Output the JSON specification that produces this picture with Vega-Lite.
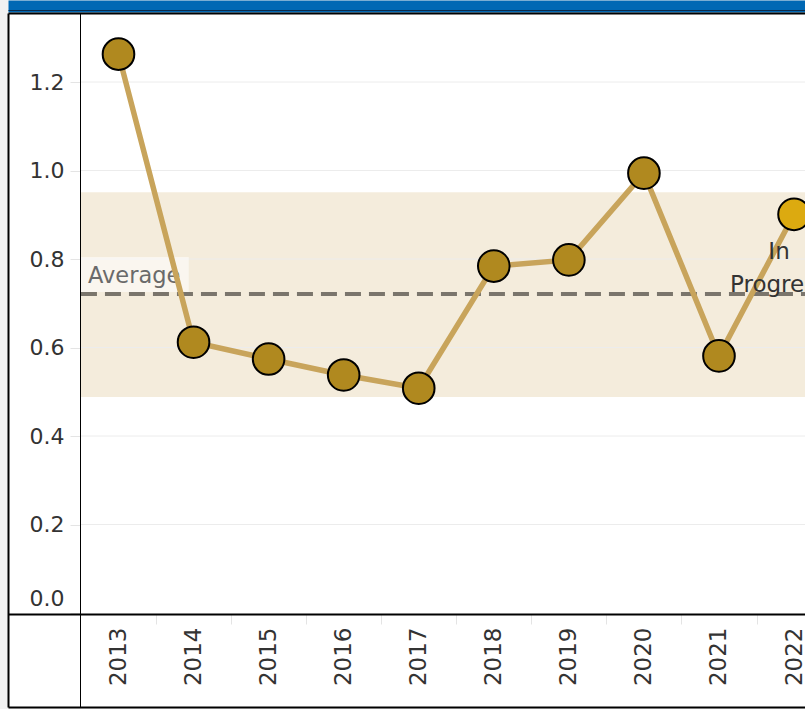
{
  "$schema": "https://vega.github.io/schema/vega-lite/v6.json",
  "autosize": "none",
  "width": 797,
  "height": 694,
  "padding": {"left": 8, "top": 13, "right": 0, "bottom": 2},
  "background": "#f2f2f2",
  "config": {"view": {"fill": "white", "stroke": null}, "font": "DejaVu Sans"},
  "datasets": {
    "series": [
      {"year": 2013, "value": 1.263, "status": "Complete"},
      {"year": 2014, "value": 0.612, "status": "Complete"},
      {"year": 2015, "value": 0.574, "status": "Complete"},
      {"year": 2016, "value": 0.538, "status": "Complete"},
      {"year": 2017, "value": 0.508, "status": "Complete"},
      {"year": 2018, "value": 0.784, "status": "Complete"},
      {"year": 2019, "value": 0.798, "status": "Complete"},
      {"year": 2020, "value": 0.994, "status": "Complete"},
      {"year": 2021, "value": 0.581, "status": "Complete"},
      {"year": 2022, "value": 0.901, "status": "In Progress"}
    ],
    "ref": [{"avg": 0.721, "lo": 0.488, "hi": 0.951}],
    "grid": [{"v": 0.2}, {"v": 0.4}, {"v": 0.6}, {"v": 0.8}, {"v": 1.0}, {"v": 1.2}]
  },
  "resolve": {"scale": {"x": "independent", "y": "independent"}},
  "layer": [
    {
      "data": {"name": "ref"},
      "mark": {"type": "point", "opacity": 0},
      "encoding": {
        "x": {"field": "avg", "type": "quantitative", "scale": {"domain": [0, 1]},
          "axis": {"orient": "top", "offset": 7, "domainColor": "#0068b4", "domainWidth": 12, "labels": false, "ticks": false, "grid": false, "title": null, "zindex": 2}},
        "y": {"field": "avg", "type": "quantitative", "scale": {"domain": [0, 1]},
          "axis": {"orient": "left", "offset": 0, "domainColor": "#000000", "domainWidth": 2, "labels": false, "ticks": false, "grid": false, "title": null, "zindex": 2}}
      }
    },
    {
      "data": {"name": "ref"},
      "mark": {"type": "point", "opacity": 0},
      "encoding": {
        "x": {"field": "avg", "type": "quantitative", "scale": {"domain": [0, 1]},
          "axis": {"orient": "top", "offset": 0, "domainColor": "#000000", "domainWidth": 2, "labels": false, "ticks": false, "grid": false, "title": null, "zindex": 3}},
        "y": {"field": "avg", "type": "quantitative", "scale": {"domain": [0, 1]},
          "axis": {"orient": "left", "offset": -72, "domainColor": "#000000", "domainWidth": 1, "labels": false, "ticks": false, "grid": false, "title": null, "zindex": 2}}
      }
    },
    {
      "data": {"name": "ref"},
      "mark": {"type": "point", "opacity": 0},
      "encoding": {
        "x": {"field": "avg", "type": "quantitative", "scale": {"domain": [0, 1]},
          "axis": {"orient": "bottom", "offset": 0, "domainColor": "#000000", "domainWidth": 2, "labels": false, "ticks": false, "grid": false, "title": null, "zindex": 2}},
        "y": {"field": "avg", "type": "quantitative", "scale": {"domain": [0, 1]}, "axis": null}
      }
    },
    {
      "data": {"name": "ref"},
      "mark": {"type": "point", "opacity": 0},
      "encoding": {
        "x": {"field": "avg", "type": "quantitative", "scale": {"domain": [0, 1]},
          "axis": {"orient": "bottom", "offset": -93, "domainColor": "#000000", "domainWidth": 2, "labels": false, "ticks": false, "grid": false, "title": null, "zindex": 2}},
        "y": {"field": "avg", "type": "quantitative", "scale": {"domain": [0, 1]}, "axis": null}
      }
    },
    {
      "data": {"name": "ref"},
      "mark": {"type": "point", "opacity": 0},
      "encoding": {
        "x": {"field": "avg", "type": "quantitative", "scale": {"domain": [0, 1]},
          "axis": {"orient": "top", "offset": 3, "domainColor": "#0a2a4a", "domainWidth": 1, "labels": false, "ticks": false, "grid": false, "title": null, "zindex": 3}},
        "y": {"field": "avg", "type": "quantitative", "scale": {"domain": [0, 1]}, "axis": null}
      }
    },
    {
      "layer": [
        {
          "data": {"name": "ref"},
          "mark": {"type": "rect", "color": "#f4ecdc", "clip": true},
          "encoding": {
            "x": {"datum": 2012.5, "type": "quantitative"},
            "x2": {"datum": 2023},
            "y": {"field": "lo", "type": "quantitative"},
            "y2": {"field": "hi"}
          }
        },
        {
          "data": {"name": "grid"},
          "mark": {"type": "rule", "color": "#ececec", "strokeWidth": 1, "clip": true},
          "encoding": {
            "x": {"datum": 2012.5, "type": "quantitative"},
            "x2": {"datum": 2023},
            "y": {"field": "v", "type": "quantitative"}
          }
        },
        {
          "data": {"name": "ref"},
          "mark": {"type": "rule", "color": "#7a756c", "strokeWidth": 4, "strokeDash": [16, 8], "clip": true},
          "encoding": {
            "x": {"datum": 2012.5, "type": "quantitative"},
            "x2": {"datum": 2023},
            "y": {"field": "avg", "type": "quantitative"}
          }
        },
        {
          "data": {"name": "ref"},
          "mark": {"type": "rect", "color": "#ffffff", "opacity": 0.55, "clip": true},
          "encoding": {
            "x": {"datum": 2012.5, "type": "quantitative"},
            "x2": {"datum": 2013.936},
            "y": {"datum": 0.7254, "type": "quantitative"},
            "y2": {"datum": 0.8045}
          }
        },
        {
          "data": {"name": "ref"},
          "mark": {"type": "text", "align": "left", "baseline": "alphabetic", "dx": 7, "dy": -11, "fontSize": 22.5, "color": "#6a6a6a"},
          "encoding": {
            "x": {"datum": 2012.5, "type": "quantitative"},
            "y": {"field": "avg", "type": "quantitative"},
            "text": {"value": "Average"}
          }
        },
        {
          "data": {"name": "series"},
          "mark": {"type": "line", "color": "#c8a45b", "strokeWidth": 5.5},
          "encoding": {
            "x": {"field": "year", "type": "quantitative"},
            "y": {"field": "value", "type": "quantitative"}
          }
        },
        {
          "data": {"name": "series"},
          "mark": {"type": "point", "shape": "circle", "filled": true, "size": 1000, "stroke": "#000000", "strokeWidth": 2, "opacity": 1},
          "encoding": {
            "x": {"field": "year", "type": "quantitative",
              "scale": {"domain": [2011.528, 2022.146], "nice": false, "zero": false},
              "axis": {"orient": "bottom", "offset": -93, "values": [2013, 2014, 2015, 2016, 2017, 2018, 2019, 2020, 2021, 2022], "format": "d", "labelAngle": -90, "labelFontSize": 23, "labelColor": "#333333", "labelPadding": 3, "tickSize": 10, "tickColor": "#e4e4e4", "tickOffset": 37.53, "labelOffset": -37.53, "domain": false, "grid": false, "title": null, "labelFlush": false, "labelOverlap": false}},
            "y": {"field": "value", "type": "quantitative",
              "scale": {"domain": [0, 1.356], "range": [600, 0], "nice": false, "zero": false},
              "axis": {"orient": "left", "offset": -72, "values": [0, 0.2, 0.4, 0.6, 0.8, 1.0, 1.2], "format": ".1f", "labelFontSize": 22, "labelColor": "#333333", "labelPadding": 6, "tickSize": 10, "tickColor": "#e4e4e4", "domain": false, "grid": false, "title": null, "labelFlush": true, "labelFlushOffset": -3}},
            "fill": {"field": "status", "type": "nominal", "scale": {"domain": ["Complete", "In Progress"], "range": ["#b0891f", "#dcaa10"]}, "legend": null}
          }
        },
        {
          "data": {"name": "series"},
          "transform": [{"filter": "datum.status === 'In Progress'"}],
          "mark": {"type": "text", "align": "center", "baseline": "alphabetic", "dx": -15, "dy": 45, "fontSize": 23, "lineHeight": 33, "lineBreak": " ", "color": "#333333"},
          "encoding": {
            "x": {"field": "year", "type": "quantitative"},
            "y": {"field": "value", "type": "quantitative"},
            "text": {"field": "status"}
          }
        }
      ]
    }
  ]
}
